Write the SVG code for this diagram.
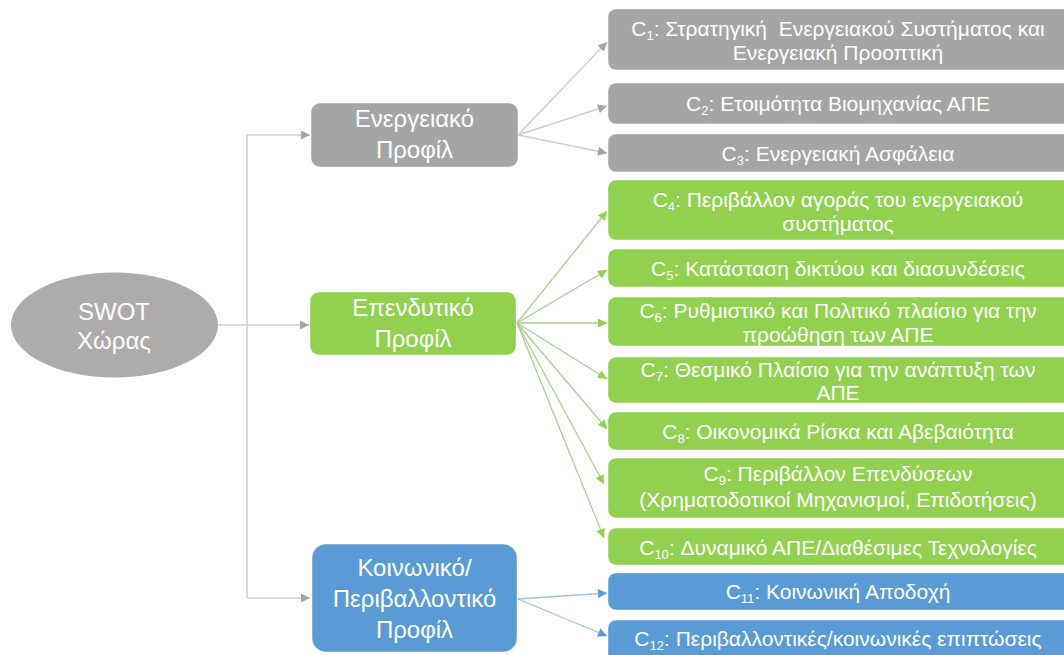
<svg xmlns="http://www.w3.org/2000/svg" width="1064" height="655" viewBox="0 0 1064 655">
<style>
text{font-family:"Liberation Sans","DejaVu Sans",sans-serif;fill:#ffffff;text-anchor:middle}
.big{font-size:24px}
.c{font-size:21px}
.s{font-size:13px}
.gray{fill:#a5a5a5}
.green{fill:#92d050}
.blue{fill:#5b9bd5}
.box{stroke:#ffffff;stroke-opacity:0.45;stroke-width:1}
.lg{fill:none;stroke:#cfcdcd;stroke-width:1.5}
.lgr{fill:none;stroke:#a9d18e;stroke-width:1.3}
.lb{fill:none;stroke:#9dc3e6;stroke-width:1.3}
</style>
<defs>
<marker id="ag" viewBox="0 0 10 10" refX="10" refY="5" markerWidth="11" markerHeight="9" markerUnits="userSpaceOnUse" orient="auto"><path d="M0,0 L10,5 L0,10 Z" fill="#a6a3a3"/></marker>
<marker id="agr" viewBox="0 0 10 10" refX="10" refY="5" markerWidth="11" markerHeight="9" markerUnits="userSpaceOnUse" orient="auto"><path d="M0,0 L10,5 L0,10 Z" fill="#92d050"/></marker>
<marker id="ab" viewBox="0 0 10 10" refX="10" refY="5" markerWidth="11" markerHeight="9" markerUnits="userSpaceOnUse" orient="auto"><path d="M0,0 L10,5 L0,10 Z" fill="#5b9bd5"/></marker>
</defs>

<g id="connectors">
<path class="lg" d="M218,325 H309" marker-end="url(#ag)"/>
<path class="lg" d="M247,135 V598"/>
<path class="lg" d="M247,135 H310" marker-end="url(#ag)"/>
<path class="lg" d="M247,598 H310" marker-end="url(#ag)"/>
<path class="lg" d="M518,135 L607,42" marker-end="url(#ag)"/>
<path class="lg" d="M518,135 L607,106" marker-end="url(#ag)"/>
<path class="lg" d="M518,135 L607,153" marker-end="url(#ag)"/>
<path class="lgr" d="M517,323 L607,211" marker-end="url(#agr)"/>
<path class="lgr" d="M517,323 L607,270" marker-end="url(#agr)"/>
<path class="lgr" d="M517,323 L607,323" marker-end="url(#agr)"/>
<path class="lgr" d="M517,323 L607,379" marker-end="url(#agr)"/>
<path class="lgr" d="M517,323 L607,429" marker-end="url(#agr)"/>
<path class="lgr" d="M517,323 L604,484" marker-end="url(#agr)"/>
<path class="lgr" d="M517,323 L604,538" marker-end="url(#agr)"/>
<path class="lb" d="M518,599 L607,593" marker-end="url(#ab)"/>
<path class="lb" d="M518,599 L607,636" marker-end="url(#ab)"/>
</g>

<g id="swot">
<ellipse cx="114.5" cy="325" rx="103.5" ry="52.5" fill="#aeabab"/>
<text class="big" x="114" y="320">SWOT</text>
<text class="big" x="114" y="349">Χώρας</text>
</g>

<g id="energy-profile">
<rect class="gray box" x="311" y="103" width="207" height="64" rx="9"/>
<text class="big" x="414.5" y="127">Ενεργειακό</text>
<text class="big" x="414.5" y="158">Προφίλ</text>
</g>

<g id="investment-profile">
<rect class="green box" x="310" y="292" width="206" height="63" rx="9"/>
<text class="big" x="413" y="316">Επενδυτικό</text>
<text class="big" x="413" y="347">Προφίλ</text>
</g>

<g id="social-profile">
<rect class="blue box" x="312" y="544" width="205" height="108" rx="14"/>
<text class="big" x="414.5" y="576">Κοινωνικό/</text>
<text class="big" x="414.5" y="607">Περιβαλλοντικό</text>
<text class="big" x="414.5" y="638">Προφίλ</text>
</g>

<g id="c1">
<rect class="gray box" x="608" y="9" width="470" height="61" rx="8"/>
<text class="c" x="838" y="36">C<tspan class="s" dy="4">1</tspan><tspan dy="-4">: Στρατηγική&#160; Ενεργειακού Συστήματος και</tspan></text>
<text class="c" x="838" y="60">Ενεργειακή Προοπτική</text>
</g>
<g id="c2">
<rect class="gray box" x="608" y="83" width="470" height="41" rx="8"/>
<text class="c" x="838" y="111">C<tspan class="s" dy="4">2</tspan><tspan dy="-4">: Ετοιμότητα Βιομηχανίας ΑΠΕ</tspan></text>
</g>
<g id="c3">
<rect class="gray box" x="608" y="134" width="470" height="38" rx="8"/>
<text class="c" x="838" y="161">C<tspan class="s" dy="4">3</tspan><tspan dy="-4">: Ενεργειακή Ασφάλεια</tspan></text>
</g>
<g id="c4">
<rect class="green box" x="608" y="180" width="470" height="60" rx="8"/>
<text class="c" x="838" y="207">C<tspan class="s" dy="4">4</tspan><tspan dy="-4">: Περιβάλλον αγοράς του ενεργειακού</tspan></text>
<text class="c" x="838" y="231">συστήματος</text>
</g>
<g id="c5">
<rect class="green box" x="608" y="249" width="470" height="38" rx="8"/>
<text class="c" x="838" y="276">C<tspan class="s" dy="4">5</tspan><tspan dy="-4">: Κατάσταση δικτύου και διασυνδέσεις</tspan></text>
</g>
<g id="c6">
<rect class="green box" x="608" y="297" width="470" height="49" rx="8"/>
<text class="c" x="838" y="318">C<tspan class="s" dy="4">6</tspan><tspan dy="-4">: Ρυθμιστικό και Πολιτικό πλαίσιο για την</tspan></text>
<text class="c" x="838" y="342">προώθηση των ΑΠΕ</text>
</g>
<g id="c7">
<rect class="green box" x="608" y="357" width="470" height="46" rx="8"/>
<text class="c" x="838" y="377">C<tspan class="s" dy="4">7</tspan><tspan dy="-4">: Θεσμικό Πλαίσιο για την ανάπτυξη των</tspan></text>
<text class="c" x="838" y="400">ΑΠΕ</text>
</g>
<g id="c8">
<rect class="green box" x="608" y="412" width="470" height="38" rx="8"/>
<text class="c" x="838" y="439">C<tspan class="s" dy="4">8</tspan><tspan dy="-4">: Οικονομικά Ρίσκα και Αβεβαιότητα</tspan></text>
</g>
<g id="c9">
<rect class="green box" x="608" y="458" width="470" height="60" rx="8"/>
<text class="c" x="838" y="481">C<tspan class="s" dy="4">9</tspan><tspan dy="-4">: Περιβάλλον Επενδύσεων</tspan></text>
<text class="c" x="838" y="507">(Χρηματοδοτικοί Μηχανισμοί, Επιδοτήσεις)</text>
</g>
<g id="c10">
<rect class="green box" x="608" y="528" width="470" height="37" rx="8"/>
<text class="c" x="838" y="555">C<tspan class="s" dy="4">10</tspan><tspan dy="-4">: Δυναμικό ΑΠΕ/Διαθέσιμες Τεχνολογίες</tspan></text>
</g>
<g id="c11">
<rect class="blue box" x="608" y="573" width="470" height="37" rx="8"/>
<text class="c" x="838" y="599">C<tspan class="s" dy="4">11</tspan><tspan dy="-4">: Κοινωνική Αποδοχή</tspan></text>
</g>
<g id="c12">
<rect class="blue box" x="608" y="620" width="470" height="45" rx="8"/>
<text class="c" x="838" y="646">C<tspan class="s" dy="4">12</tspan><tspan dy="-4">: Περιβαλλοντικές/κοινωνικές επιπτώσεις</tspan></text>
</g>
</svg>
